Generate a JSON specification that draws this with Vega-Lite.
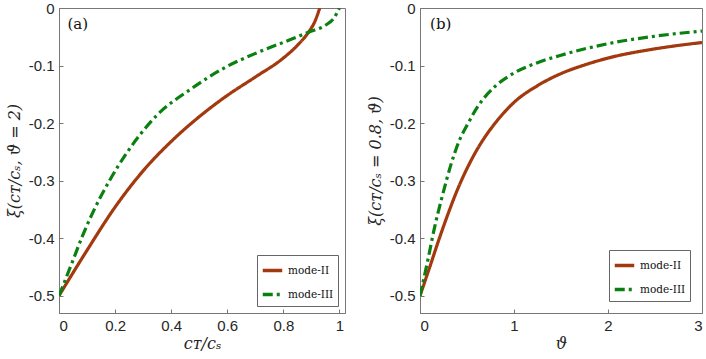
{
  "$schema": "https://vega.github.io/schema/vega-lite/v6.json",
  "padding": {"left": 5, "top": 0, "right": 0, "bottom": 0},
  "background": "white",
  "spacing": 20,
  "config": {
    "view": {"stroke": "#777", "strokeWidth": 1},
    "axis": {
      "labelFont": "Liberation Sans", "labelFontSize": 15, "labelColor": "#262626",
      "titleFont": "DejaVu Serif", "titleFontStyle": "italic", "titleFontWeight": "normal", "titleFontSize": 16, "titleColor": "#262626",
      "domainColor": "#777", "tickColor": "#777", "tickSize": -4, "labelPadding": 9, "grid": false
    },
    "legend": {
      "labelFont": "DejaVu Serif", "labelFontSize": 10.5, "labelColor": "#111",
      "strokeColor": "#666", "fillColor": "white", "padding": 4, "rowPadding": 5,
      "symbolType": "stroke", "symbolSize": 380, "symbolStrokeWidth": 3.5, "title": null
    }
  },
  "datasets": {
    "a": [
      {"mode": "mode-II", "x": 0, "y": -0.5},
      {"mode": "mode-II", "x": 0.1, "y": -0.421},
      {"mode": "mode-II", "x": 0.2, "y": -0.346},
      {"mode": "mode-II", "x": 0.3, "y": -0.283},
      {"mode": "mode-II", "x": 0.4, "y": -0.232},
      {"mode": "mode-II", "x": 0.5, "y": -0.189},
      {"mode": "mode-II", "x": 0.6, "y": -0.152},
      {"mode": "mode-II", "x": 0.7, "y": -0.12},
      {"mode": "mode-II", "x": 0.8, "y": -0.087},
      {"mode": "mode-II", "x": 0.85, "y": -0.065},
      {"mode": "mode-II", "x": 0.89, "y": -0.042},
      {"mode": "mode-II", "x": 0.912, "y": -0.024},
      {"mode": "mode-II", "x": 0.93, "y": 0},
      {"mode": "mode-III", "x": 0, "y": -0.5},
      {"mode": "mode-III", "x": 0.047, "y": -0.442},
      {"mode": "mode-III", "x": 0.083, "y": -0.397},
      {"mode": "mode-III", "x": 0.12, "y": -0.356},
      {"mode": "mode-III", "x": 0.18, "y": -0.3},
      {"mode": "mode-III", "x": 0.24, "y": -0.253},
      {"mode": "mode-III", "x": 0.35, "y": -0.186},
      {"mode": "mode-III", "x": 0.47, "y": -0.141},
      {"mode": "mode-III", "x": 0.59, "y": -0.104},
      {"mode": "mode-III", "x": 0.71, "y": -0.077},
      {"mode": "mode-III", "x": 0.83, "y": -0.054},
      {"mode": "mode-III", "x": 0.89, "y": -0.042},
      {"mode": "mode-III", "x": 0.95, "y": -0.03},
      {"mode": "mode-III", "x": 0.98, "y": -0.018},
      {"mode": "mode-III", "x": 1.0, "y": 0}
    ],
    "b": [
      {"mode": "mode-II", "x": 0, "y": -0.5},
      {"mode": "mode-II", "x": 0.1, "y": -0.452},
      {"mode": "mode-II", "x": 0.2, "y": -0.403},
      {"mode": "mode-II", "x": 0.3, "y": -0.357},
      {"mode": "mode-II", "x": 0.4, "y": -0.315},
      {"mode": "mode-II", "x": 0.5, "y": -0.279},
      {"mode": "mode-II", "x": 0.6, "y": -0.248},
      {"mode": "mode-II", "x": 0.7, "y": -0.222},
      {"mode": "mode-II", "x": 0.8, "y": -0.2},
      {"mode": "mode-II", "x": 1.0, "y": -0.164},
      {"mode": "mode-II", "x": 1.25, "y": -0.135},
      {"mode": "mode-II", "x": 1.5, "y": -0.114},
      {"mode": "mode-II", "x": 1.75, "y": -0.099},
      {"mode": "mode-II", "x": 2.0, "y": -0.087},
      {"mode": "mode-II", "x": 2.5, "y": -0.071},
      {"mode": "mode-II", "x": 3.0, "y": -0.06},
      {"mode": "mode-III", "x": 0, "y": -0.5},
      {"mode": "mode-III", "x": 0.086, "y": -0.436},
      {"mode": "mode-III", "x": 0.158, "y": -0.379},
      {"mode": "mode-III", "x": 0.229, "y": -0.332},
      {"mode": "mode-III", "x": 0.337, "y": -0.268},
      {"mode": "mode-III", "x": 0.409, "y": -0.234},
      {"mode": "mode-III", "x": 0.516, "y": -0.199},
      {"mode": "mode-III", "x": 0.624, "y": -0.169},
      {"mode": "mode-III", "x": 0.8, "y": -0.136},
      {"mode": "mode-III", "x": 1.0, "y": -0.113},
      {"mode": "mode-III", "x": 1.25, "y": -0.095},
      {"mode": "mode-III", "x": 1.5, "y": -0.082},
      {"mode": "mode-III", "x": 2.0, "y": -0.062},
      {"mode": "mode-III", "x": 2.5, "y": -0.049},
      {"mode": "mode-III", "x": 3.0, "y": -0.04}
    ],
    "la": [{"x": 0.067, "y": -0.028, "t": "(a)"}],
    "lb": [{"x": 0.22, "y": -0.028, "t": "(b)"}]
  },
  "hconcat": [
    {
      "width": 286, "height": 305,
      "layer": [
        {
          "data": {"name": "a"},
          "mark": {"type": "line", "strokeWidth": 3.2, "clip": true, "interpolate": "monotone"},
          "encoding": {
            "x": {"field": "x", "type": "quantitative", "scale": {"domain": [0, 1.02], "nice": false, "zero": false},
                  "axis": {"values": [0, 0.2, 0.4, 0.6, 0.8, 1], "labelExpr": "toString(datum.value)", "title": "cᴛ/cₛ", "titlePadding": 2}},
            "y": {"field": "y", "type": "quantitative", "scale": {"domain": [-0.53, 0], "nice": false, "zero": false},
                  "axis": {"values": [-0.5, -0.4, -0.3, -0.2, -0.1, 0], "labelExpr": "toString(datum.value)", "title": "ξ(cᴛ/cₛ, ϑ = 2)", "titlePadding": 6}},
            "color": {"field": "mode", "type": "nominal", "scale": {"domain": ["mode-II", "mode-III"], "range": ["#A3390F", "#0A8010"]},
                      "legend": {"orient": "bottom-right", "offset": 7}},
            "strokeDash": {"field": "mode", "type": "nominal", "scale": {"domain": ["mode-II", "mode-III"], "range": [[1, 0], [10, 4, 3, 4]]},
                      "legend": {"orient": "bottom-right", "offset": 7}}
          }
        },
        {
          "data": {"name": "la"},
          "mark": {"type": "text", "font": "DejaVu Serif", "fontSize": 15, "color": "#111"},
          "encoding": {"x": {"field": "x", "type": "quantitative"}, "y": {"field": "y", "type": "quantitative"}, "text": {"field": "t"}}
        }
      ]
    },
    {
      "width": 282, "height": 305,
      "layer": [
        {
          "data": {"name": "b"},
          "mark": {"type": "line", "strokeWidth": 3.2, "clip": true, "interpolate": "monotone"},
          "encoding": {
            "x": {"field": "x", "type": "quantitative", "scale": {"domain": [0, 3], "nice": false, "zero": false},
                  "axis": {"values": [0, 1, 2, 3], "labelExpr": "toString(datum.value)", "title": "ϑ", "titlePadding": 2}},
            "y": {"field": "y", "type": "quantitative", "scale": {"domain": [-0.53, 0], "nice": false, "zero": false},
                  "axis": {"values": [-0.5, -0.4, -0.3, -0.2, -0.1, 0], "labelExpr": "toString(datum.value)", "title": "ξ(cᴛ/cₛ = 0.8, ϑ)", "titlePadding": 6}},
            "color": {"field": "mode", "type": "nominal", "scale": {"domain": ["mode-II", "mode-III"], "range": ["#A3390F", "#0A8010"]},
                      "legend": {"orient": "bottom-right", "offset": 12}},
            "strokeDash": {"field": "mode", "type": "nominal", "scale": {"domain": ["mode-II", "mode-III"], "range": [[1, 0], [10, 4, 3, 4]]},
                      "legend": {"orient": "bottom-right", "offset": 12}}
          }
        },
        {
          "data": {"name": "lb"},
          "mark": {"type": "text", "font": "DejaVu Serif", "fontSize": 15, "color": "#111"},
          "encoding": {"x": {"field": "x", "type": "quantitative"}, "y": {"field": "y", "type": "quantitative"}, "text": {"field": "t"}}
        }
      ]
    }
  ],
  "resolve": {"scale": {"color": "independent", "strokeDash": "independent"}, "legend": {"color": "independent", "strokeDash": "independent"}}
}
